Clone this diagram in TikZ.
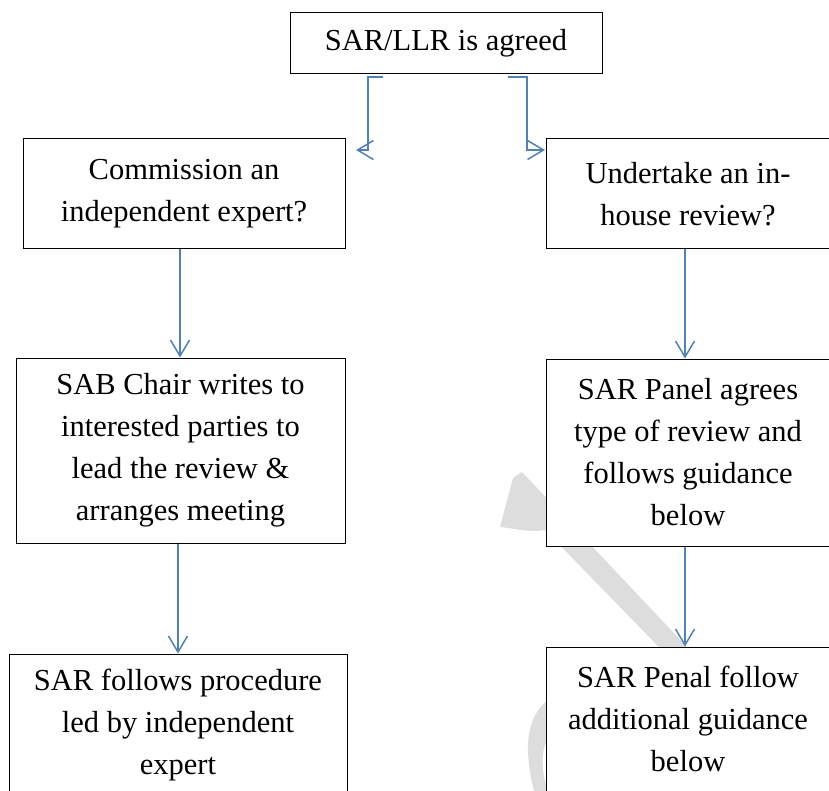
\documentclass[tikz,border=0pt]{standalone}
\usepackage{fontspec}
\setmainfont{Liberation Serif}
\usetikzlibrary{arrows.meta}
\definecolor{connblue}{RGB}{79,129,189}
\definecolor{wmgrey}{RGB}{221,221,221}
\begin{document}
\begin{tikzpicture}[x=1pt,y=-1pt,
  box/.style={draw=black, line width=1pt, fill=white, align=center, inner sep=0pt,
    font=\fontsize{30.5}{42}\selectfont},
  conn/.style={draw=connblue, line width=1.5pt,
    -{Straight Barb[length=16pt,width=19pt,line width=1.5pt]}}]
\useasboundingbox (0,0) rectangle (829,791);
\clip (0,0) rectangle (829,791);
% watermark (behind the boxes)
\fill[wmgrey] (522,472) -- (720,682) -- (693,682) -- (545,530)
  .. controls (530,533) and (512,528) .. (500,527)
  -- (513,478) -- cycle;
\fill[wmgrey] (548,700) .. controls (533,711) and (527,732) .. (528,752)
  .. controls (529,772) and (532,785) .. (536,796)
  -- (550,796) .. controls (541,775) and (540,752) .. (548,738) -- cycle;
% boxes
\node[box, minimum width=312, minimum height=61] (top) at (446,43.5) {SAR/LLR is agreed};
\node[box, minimum width=322, minimum height=110] (L1) at (184,194) {Commission an\\independent expert?};
\node[box, minimum width=284, minimum height=110] (R1) at (688,194) {Undertake an in-\\house review?};
\node[box, minimum width=329, minimum height=185] (L2) at (180.5,450.5) {SAB Chair writes to\\interested parties to\\lead the review \&\\arranges meeting};
\node[box, minimum width=284, minimum height=187] (R2) at (688,452.5) {SAR Panel agrees\\type of review and\\follows guidance\\below};
\node[box, minimum width=338, minimum height=142] (L3) at (178,725) {SAR follows procedure\\led by independent\\expert};
\node[box, minimum width=284, minimum height=144] (R3) at (688,719) {SAR Penal follow\\additional guidance\\below};
% connectors
\coordinate (ls) at (383,77);
\coordinate (lt) at (356,150);
\coordinate (rs) at (508,77);
\coordinate (rt) at (545,150);
\draw[conn] (ls) -- ++(-15,0) |- (lt);
\draw[conn] (rs) -- ++(19,0) |- (rt);
\draw[conn] ([xshift=-0.5pt]L1.south -| L2.north) -- ([xshift=-0.5pt]L2.north);
\draw[conn] (L2.south -| L3.north) -- (L3.north);
\draw[conn] ([xshift=-3pt]R1.south) -- ([xshift=-3pt]R2.north);
\draw[conn] ([xshift=-3pt]R2.south) -- ([xshift=-3pt]R3.north);
\end{tikzpicture}
\end{document}
